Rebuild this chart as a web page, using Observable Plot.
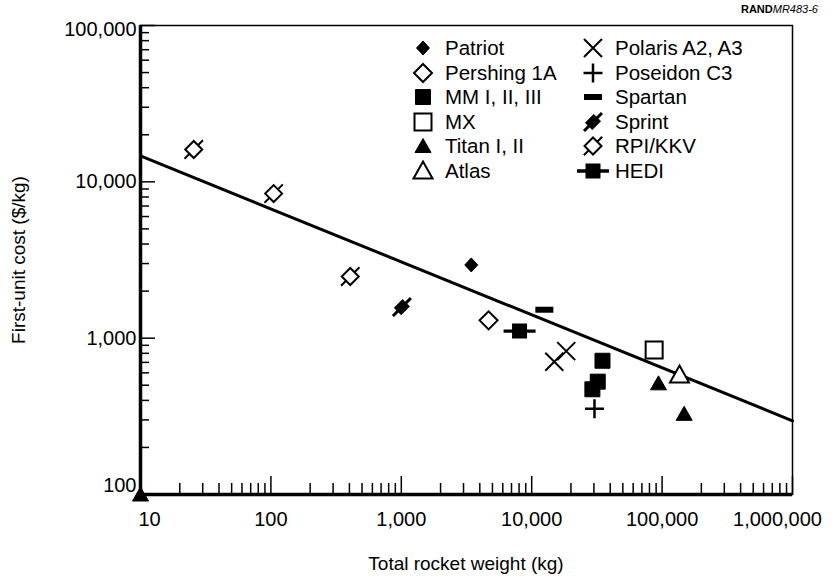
<!DOCTYPE html>
<html><head><meta charset="utf-8">
<script src="https://cdn.jsdelivr.net/npm/d3@7"></script>
<script src="https://cdn.jsdelivr.net/npm/@observablehq/plot@0.6"></script>
<style>
body{margin:0;background:#fff;}
#wrap{position:relative;width:833px;height:583px;font-family:"Liberation Sans",Arial,sans-serif;color:#000;}
#tag{position:absolute;right:15px;top:3px;font-size:11px;letter-spacing:0px;}
#legend{position:absolute;left:406px;top:36px;display:grid;grid-template-columns:170px 170px;grid-auto-rows:24.5px;font-size:20.5px;}
.item{display:flex;align-items:center;}
.item svg{flex:none;margin-right:5px;}
#xtitle{position:absolute;left:140px;width:652px;top:553px;text-align:center;font-size:19px;}
#ytitle{position:absolute;left:19px;top:260px;font-size:19px;white-space:nowrap;transform:translate(-50%,-50%) rotate(-90deg);}
</style></head><body>
<div id="wrap">
<div id="tag"><b>RAND</b><i>MR483-6</i></div>
<div id="xtitle">Total rocket weight (kg)</div>
<div id="ytitle">First-unit cost ($/kg)</div>
</div>
<script>
// ---- data ----
const seriesNames = ["Patriot","Pershing 1A","MM I, II, III","MX","Titan I, II","Atlas",
                     "Polaris A2, A3","Poseidon C3","Spartan","Sprint","RPI/KKV","HEDI"];
const pointSeries = ["Patriot","Pershing 1A","MM I, II, III","MM I, II, III","MM I, II, III","MX",
                     "Titan I, II","Titan I, II","Titan I, II","Atlas","Polaris A2, A3","Polaris A2, A3",
                     "Poseidon C3","Spartan","Sprint","RPI/KKV","RPI/KKV","RPI/KKV","HEDI"];
const pointWeight = [3440, 4670, 34900, 32100, 29200, 86900,
                     93800, 147600, 10, 136000, 14900, 18400,
                     30300, 12500, 1010, 25.6, 105, 406, 8070];
const pointCost   = [2940, 1300, 717, 527, 471, 840,
                     514, 328, 100, 581, 707, 826,
                     353, 1520, 1580, 16100, 8410, 2480, 1110];
const fitWeight = [10, 1000000];
const fitCost = [14650, 296];
const xMajor = [10, 100, 1000, 10000, 100000, 1000000];
const yMajor = [100, 1000, 10000, 100000];
const mult = [2,3,4,5,6,7,8,9];

const points = pointSeries.map((s,i)=>({series:s, weight:pointWeight[i], cost:pointCost[i]}));
const fit = fitWeight.map((w,i)=>({weight:w, cost:fitCost[i]}));
const xMinor = xMajor.slice(0,-1).flatMap(d=>mult.map(m=>d*m));
const yMinor = yMajor.slice(0,-1).flatMap(d=>mult.map(m=>d*m));

// ---- symbols ----
function polyPath(c, pts){c.moveTo(pts[0][0],pts[0][1]);for(const p of pts.slice(1))c.lineTo(p[0],p[1]);c.closePath();}
function rrect(hl, hw){ // rectangle oriented along "/" direction
  const u=[Math.SQRT1_2,-Math.SQRT1_2], v=[Math.SQRT1_2,Math.SQRT1_2];
  return [[ u[0]*hl+v[0]*hw, u[1]*hl+v[1]*hw],[ u[0]*hl-v[0]*hw, u[1]*hl-v[1]*hw],
          [-u[0]*hl-v[0]*hw,-u[1]*hl-v[1]*hw],[-u[0]*hl+v[0]*hw,-u[1]*hl+v[1]*hw]];
}
const shapes = {
  "Patriot": {draw(c){polyPath(c,[[0,-7],[6.5,0],[0,7],[-6.5,0]]);}, fill:"black", stroke:"black", sw:1},
  "Pershing 1A": {draw(c){polyPath(c,[[0,-9],[9,0],[0,9],[-9,0]]);}, fill:"white", stroke:"black", sw:2},
  "MM I, II, III": {draw(c){c.rect(-7.5,-7.5,15,15);}, fill:"black", stroke:"black", sw:1},
  "MX": {draw(c){c.rect(-8.5,-8.5,17,17);}, fill:"white", stroke:"black", sw:2},
  "Titan I, II": {draw(c){polyPath(c,[[0,-7.5],[8,6.5],[-8,6.5]]);}, fill:"black", stroke:"black", sw:1},
  "Atlas": {draw(c){polyPath(c,[[0,-9.5],[9.5,7.5],[-9.5,7.5]]);}, fill:"white", stroke:"black", sw:2},
  "Polaris A2, A3": {draw(c){c.moveTo(-9,-9);c.lineTo(9,9);c.moveTo(9,-9);c.lineTo(-9,9);}, fill:"none", stroke:"black", sw:2},
  "Poseidon C3": {draw(c){c.moveTo(-9.5,0);c.lineTo(9.5,0);c.moveTo(0,-9.5);c.lineTo(0,9.5);}, fill:"none", stroke:"black", sw:2.5},
  "Spartan": {draw(c){c.rect(-9,-3,18,6);}, fill:"black", stroke:"none", sw:0},
  "Sprint": {draw(c){polyPath(c,rrect(6,5));polyPath(c,rrect(12.5,1.3));}, fill:"black", stroke:"black", sw:0.5},
  "RPI/KKV": {draw(c){polyPath(c,rrect(6,6));
      const a=Math.SQRT1_2; c.moveTo(6*a,-6*a);c.lineTo(13*a,-13*a);c.moveTo(-6*a,6*a);c.lineTo(-13*a,13*a);}, fill:"white", stroke:"black", sw:2},
  "HEDI": {draw(c){c.rect(-7.5,-7.5,15,15);c.rect(-16,-1.7,32,3.4);}, fill:"black", stroke:"none", sw:0}
};

// ---- chart ----
const tickStyle = {stroke:"black", strokeWidth:1.5};
const chart = Plot.plot({
  width: 833, height: 583,
  marginLeft: 140, marginRight: 41, marginTop: 25, marginBottom: 89,
  x: {type:"log", domain:[10,1e6]},
  y: {type:"log", domain:[100,1e5]},
  style: {fontFamily:"'Liberation Sans', Arial, sans-serif", fontSize:"20px", color:"black", background:"white"},
  marks: [
    Plot.frame({stroke:"black", strokeWidth:1.5}),
    // y ticks (inward)
    Plot.axisY({ticks:yMinor, tickSize:9, dx:9, tickFormat:()=>"", label:null, ...tickStyle}),
    Plot.axisY({ticks:yMajor, tickSize:15, dx:15, tickFormat:()=>"", label:null, ...tickStyle}),
    // y labels
    Plot.axisY({ticks:[1000,10000], tickSize:0, tickPadding:4, tickFormat:",", label:null, fontSize:20}),
    Plot.axisY({ticks:[100000], tickSize:0, tickPadding:4, dy:4, tickFormat:",", label:null, fontSize:20}),
    Plot.axisY({ticks:[100], tickSize:0, tickPadding:4, dy:-9, tickFormat:",", label:null, fontSize:20}),
    // x ticks (inward)
    Plot.axisX({ticks:xMinor, tickSize:11, dy:-11, tickFormat:()=>"", label:null, ...tickStyle}),
    Plot.axisX({ticks:xMajor, tickSize:18, dy:-18, tickFormat:()=>"", label:null, ...tickStyle}),
    // x labels
    Plot.axisX({ticks:[10], tickSize:0, tickPadding:17, dx:9, tickFormat:",", label:null, fontSize:20}),
    Plot.axisX({ticks:[100,1000,10000,100000], tickSize:0, tickPadding:17, tickFormat:",", label:null, fontSize:20}),
    Plot.axisX({ticks:[1000000], tickSize:0, tickPadding:17, dx:-15, tickFormat:",", label:null, fontSize:20}),
    // thick axes
    Plot.ruleX([10], {stroke:"black", strokeWidth:3.5}),
    Plot.ruleY([100], {stroke:"black", strokeWidth:3.5}),
    // fit line
    Plot.line(fit, {x:"weight", y:"cost", stroke:"black", strokeWidth:3}),
    // points
    ...seriesNames.map(s => {
      const sh = shapes[s];
      return Plot.dot(points.filter(d=>d.series===s), {x:"weight", y:"cost", symbol:{draw:sh.draw},
        fill:sh.fill, stroke:sh.stroke, strokeWidth:sh.sw, r:5});
    })
  ]
});
const wrap = document.getElementById("wrap");
wrap.insertBefore(chart, wrap.firstChild);
chart.style.position = "absolute"; chart.style.left = "0"; chart.style.top = "0";

// ---- legend ----
const legend = document.createElement("div");
legend.id = "legend";
const order = [["Patriot","Polaris A2, A3"],["Pershing 1A","Poseidon C3"],["MM I, II, III","Spartan"],
               ["MX","Sprint"],["Titan I, II","RPI/KKV"],["Atlas","HEDI"]];
for (const row of order) for (const s of row) {
  const sh = shapes[s];
  const p = d3.path(); sh.draw(p);
  const item = document.createElement("div"); item.className = "item";
  item.innerHTML = `<svg width="34" height="26" viewBox="-17 -13 34 26"><path d="${p}" fill="${sh.fill}" stroke="${sh.stroke}" stroke-width="${sh.sw}"/></svg><span>${s}</span>`;
  legend.appendChild(item);
}
wrap.appendChild(legend);
</script>
</body></html>
